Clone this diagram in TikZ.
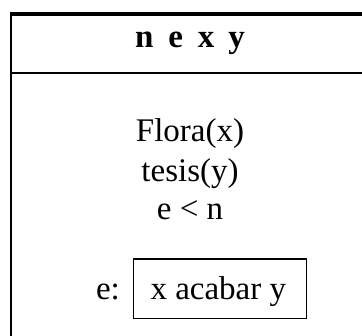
\documentclass[tikz,border=0pt]{standalone}
\usepackage{fontspec}
\setmainfont{Liberation Serif}
\begin{document}
\begin{tikzpicture}[x=1pt,y=-1pt,
  txt/.style={inner sep=0pt,anchor=base,font=\fontsize{33}{38}\selectfont},
  hdr/.style={inner sep=0pt,anchor=base,font=\fontsize{33}{38}\selectfont\bfseries},
  evbox/.style={draw,line width=1.2pt,minimum width=173.4pt,minimum height=59.3pt}]
\useasboundingbox (0,0) rectangle (362,336);
\clip (0,0) rectangle (362,336);
\draw[line width=4pt] (9.5,14) -- (375,14);
\draw[line width=2.7pt] (11,12) -- (11,345);
\draw[line width=2pt] (11,73.3) -- (375,73.3);
\node[hdr] (hd) at (190,47.7) {n\hspace{15pt}e\hspace{15pt}x\hspace{14pt}y};
\node[txt] (c1) at (190,141.5) {Flora(x)};
\node[txt] (c2) at (190,181.5) {tesis(y)};
\node[txt] (c3) at (190,220) {e < n};
\node[txt] (lab) at (108,300) {e:};
\node[evbox] (ev) at (220,288.7) {};
\node[txt] (evt) at (218.3,300) {x acabar y};
\end{tikzpicture}
\end{document}
